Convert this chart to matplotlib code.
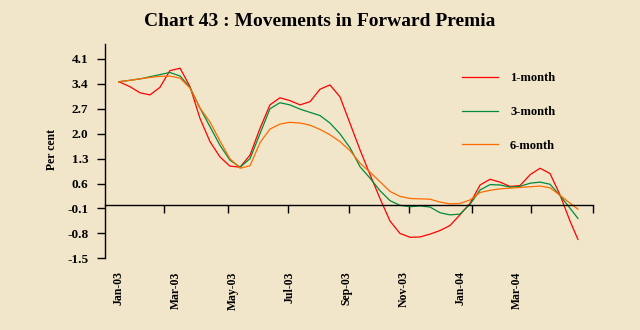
import matplotlib
matplotlib.use("Agg")
import matplotlib.pyplot as plt
from matplotlib.transforms import blended_transform_factory, ScaledTranslation

# x positions in months since Jan-03
months = [0.00, 0.39, 0.74, 1.09, 1.44, 1.79, 2.15, 2.50, 2.85, 3.20, 3.55, 3.90,
          4.26, 4.61, 4.96, 5.31, 5.66, 6.01, 6.37, 6.72, 7.07, 7.42, 7.77, 8.13,
          8.48, 8.83, 9.18, 9.53, 9.88, 10.24, 10.59, 10.94, 11.29, 11.64, 11.99,
          12.35, 12.70, 13.05, 13.40, 13.75, 14.10, 14.46, 14.81, 15.16, 15.51,
          15.86, 16.14]

one_month = [3.46, 3.32, 3.15, 3.09, 3.30, 3.77, 3.84, 3.32, 2.43, 1.78, 1.35, 1.09,
             1.06, 1.40, 2.15, 2.81, 3.01, 2.93, 2.81, 2.90, 3.25, 3.37, 3.04, 2.28,
             1.54, 0.85, 0.18, -0.45, -0.80, -0.91, -0.90, -0.82, -0.72, -0.58, -0.28,
             0.05, 0.56, 0.72, 0.64, 0.52, 0.54, 0.85, 1.03, 0.88, 0.28, -0.45, -0.97]

three_month = [3.46, 3.50, 3.54, 3.60, 3.66, 3.72, 3.62, 3.30, 2.72, 2.20, 1.68, 1.26,
               1.06, 1.30, 2.00, 2.70, 2.87, 2.81, 2.69, 2.60, 2.51, 2.30, 2.00, 1.60,
               1.07, 0.75, 0.40, 0.12, -0.01, -0.05, -0.03, -0.06, -0.22, -0.28, -0.26,
               0.02, 0.42, 0.57, 0.56, 0.50, 0.52, 0.61, 0.64, 0.58, 0.26, -0.09, -0.38]

six_month = [3.46, 3.50, 3.54, 3.58, 3.61, 3.62, 3.56, 3.28, 2.72, 2.33, 1.80, 1.30,
             1.03, 1.10, 1.75, 2.13, 2.27, 2.32, 2.30, 2.24, 2.12, 1.97, 1.78, 1.52,
             1.17, 0.92, 0.65, 0.38, 0.24, 0.18, 0.17, 0.16, 0.08, 0.03, 0.04,
             0.14, 0.35, 0.41, 0.45, 0.47, 0.49, 0.51, 0.53, 0.48, 0.27, 0.05, -0.12]

series_names = ["1-month", "3-month", "6-month"]
series_colors = ["#FF0000", "#008A3A", "#FF6A00"]

label_pos = [0, 2, 4, 6, 8, 10, 12, 14]
label_text = ["Jan-03", "Mar-03", "May-03", "Jul-03", "Sep-03", "Nov-03", "Jan-04", "Mar-04"]
tick_pos = [1.58, 3.84, 5.95, 8.10, 10.20, 12.40, 14.50, 16.67]

y_ticks = [-1.5, -0.8, -0.1, 0.6, 1.3, 2.0, 2.7, 3.4, 4.1]

bg = "#F2E6CA"
serif = ["Liberation Serif", "DejaVu Serif"]

fig = plt.figure(figsize=(6.4, 3.3), dpi=100, facecolor=bg)
ax = fig.add_axes([105/640, 1 - 258.3/330, (593-105)/640, (258.3-44)/330])
ax.set_facecolor(bg)

for vals, name, col in zip([one_month, three_month, six_month], series_names, series_colors):
    ax.plot(months, vals, color=col, lw=0.9, label=name)

ax.set_xlim(-0.49, 16.67)
ax.set_ylim(-1.5, 4.52)

for s in ["top", "right"]:
    ax.spines[s].set_visible(False)
ax.spines["bottom"].set_position(("data", 0))
ax.spines["left"].set_linewidth(1.0)
ax.spines["bottom"].set_linewidth(1.0)

ax.set_yticks(y_ticks)
ax.set_yticklabels([f"{v:.1f}" for v in y_ticks], fontfamily=serif, fontweight="bold", fontsize=9.5)
ax.tick_params(axis="y", direction="out", length=6, width=1, pad=6)

ax.set_xticks(tick_pos)
ax.set_xticklabels([])
ax.tick_params(axis="x", direction="out", length=6, width=1)

trans = blended_transform_factory(ax.transData, ax.transAxes) + ScaledTranslation(0, -13/100, fig.dpi_scale_trans)
for p, t in zip(label_pos, label_text):
    ax.text(p, 0, t, transform=trans, rotation=90, ha="center", va="top",
            fontfamily=serif, fontweight="bold", fontsize=8.5)

fig.text(52/640, 1 - 150/330, "Per cent", rotation=90, ha="center", va="center",
         fontfamily=serif, fontweight="bold", fontsize=8.5)

fig.text(0.5, 1 - 21/330, "Chart 43 : Movements in Forward Premia", ha="center", va="center",
         fontfamily=serif, fontweight="bold", fontsize=14)

leg = ax.legend(loc="upper left", bbox_to_anchor=(462/640, 1 - 72/330), bbox_transform=fig.transFigure,
                frameon=False, handlelength=2.9, handletextpad=0.95, labelspacing=1.75,
                prop={"family": serif, "weight": "bold", "size": 9}, borderaxespad=0, borderpad=0)

fig.savefig("out.png", dpi=100, facecolor=bg)
